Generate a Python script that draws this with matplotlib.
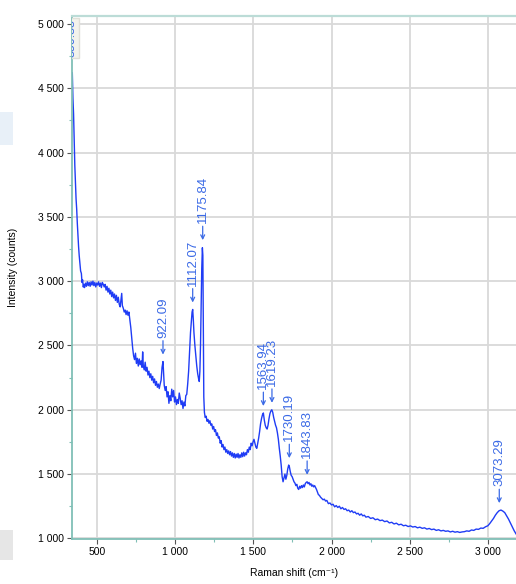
import matplotlib
matplotlib.use('Agg')
import matplotlib.pyplot as plt
import matplotlib.patches as mpatches
from matplotlib.ticker import MultipleLocator, FuncFormatter

plt.rcParams['font.family'] = ['Liberation Sans', 'DejaVu Sans']

shift = [342, 346, 350, 354, 358, 362, 366, 370, 374, 378, 382, 386, 390, 395, 400, 404, 408, 412, 416, 420,
         426, 432, 438, 444, 450, 456, 462, 468, 474, 480, 486, 492, 498, 504, 510, 516, 522, 528, 534, 540,
         546, 552, 558, 564, 570, 576, 582, 588, 594, 600, 606, 612, 618, 624, 630, 636, 642, 648, 654, 658,
         662, 668, 674, 680, 686, 692, 698, 704, 710, 716, 722, 728, 734, 740, 746, 752, 758, 764, 770, 776,
         782, 788, 792, 796, 802, 808, 814, 820, 826, 832, 838, 844, 850, 856, 862, 868, 874, 880, 886, 892,
         898, 904, 910, 916, 922, 926, 930, 936, 942, 948, 954, 960, 966, 972, 978, 984, 990, 996, 1002, 1008,
         1014, 1020, 1026, 1032, 1038, 1044, 1050, 1056, 1062, 1068, 1074, 1080, 1086, 1092, 1098, 1104, 1108,
         1112, 1116, 1120, 1126, 1132, 1138, 1144, 1150, 1154, 1158, 1162, 1166, 1170, 1174, 1177, 1180, 1183,
         1187, 1192, 1198, 1204, 1210, 1216, 1222, 1228, 1234, 1240, 1246, 1252, 1258, 1264, 1270, 1276, 1282,
         1288, 1294, 1300, 1306, 1312, 1318, 1324, 1330, 1336, 1342, 1348, 1354, 1360, 1366, 1372, 1378, 1384,
         1390, 1396, 1402, 1408, 1414, 1420, 1426, 1432, 1438, 1444, 1450, 1456, 1462, 1468, 1474, 1480, 1486,
         1492, 1498, 1504, 1510, 1516, 1522, 1528, 1534, 1540, 1546, 1552, 1558, 1564, 1570, 1576, 1582, 1588,
         1594, 1600, 1606, 1612, 1618, 1624, 1630, 1636, 1642, 1648, 1654, 1660, 1666, 1672, 1678, 1684, 1690,
         1696, 1702, 1708, 1714, 1720, 1726, 1730, 1736, 1742, 1748, 1754, 1760, 1766, 1772, 1778, 1784, 1790,
         1796, 1802, 1808, 1814, 1820, 1826, 1832, 1838, 1844, 1850, 1856, 1862, 1868, 1874, 1880, 1886, 1892,
         1898, 1904, 1910, 1916, 1922, 1930, 1938, 1946, 1954, 1962, 1970, 1980, 1990, 2000, 2010, 2020, 2030,
         2040, 2050, 2060, 2070, 2080, 2090, 2100, 2110, 2120, 2130, 2140, 2150, 2160, 2170, 2180, 2190, 2200,
         2210, 2220, 2235, 2250, 2265, 2280, 2295, 2310, 2325, 2340, 2355, 2370, 2385, 2400, 2415, 2430, 2445,
         2460, 2475, 2490, 2505, 2520, 2535, 2550, 2565, 2580, 2595, 2610, 2625, 2640, 2655, 2670, 2685, 2700,
         2715, 2730, 2745, 2760, 2775, 2790, 2805, 2820, 2835, 2850, 2865, 2880, 2895, 2910, 2925, 2940, 2955,
         2970, 2985, 3000, 3012, 3024, 3036, 3048, 3060, 3072, 3084, 3096, 3108, 3120, 3132, 3144, 3156, 3168,
         3180]

counts = [4620, 4420, 4300, 4100, 3900, 3760, 3640, 3560, 3450, 3360, 3270, 3200, 3150, 3080, 3060, 2990, 3010, 2955, 2975, 2950,
          2985, 2960, 2995, 2965, 2990, 2960, 2995, 2970, 3000, 2965, 2990, 2955, 2985, 2970, 2995, 2960, 2985, 2950, 2990, 2975,
          2955, 2975, 2930, 2960, 2915, 2945, 2900, 2930, 2880, 2915, 2870, 2900, 2850, 2890, 2835, 2875, 2820, 2800, 2860, 2905,
          2810, 2790, 2760, 2775, 2740, 2770, 2735, 2760, 2700, 2640, 2560, 2480, 2420, 2390, 2440, 2360, 2400, 2340, 2395, 2350,
          2380, 2330, 2450, 2340, 2310, 2370, 2300, 2330, 2270, 2300, 2250, 2280, 2230, 2260, 2210, 2240, 2190, 2220, 2175, 2200,
          2165, 2200, 2230, 2330, 2375, 2290, 2190, 2150, 2180, 2100, 2140, 2050, 2110, 2070, 2160, 2100, 2150, 2060, 2100, 2040,
          2080, 2050, 2130, 2090, 2040, 2070, 2010, 2060, 2030, 2110, 2120, 2200, 2300, 2450, 2600, 2700, 2760,
          2780, 2700, 2600, 2500, 2420, 2340, 2280, 2240, 2220, 2300, 2500, 2800, 3100, 3260, 3200, 2600, 2100,
          1980, 1940, 1950, 1910, 1925, 1895, 1915, 1880, 1890, 1850, 1870, 1830, 1845, 1800, 1820, 1780, 1790,
          1740, 1760, 1710, 1730, 1690, 1710, 1670, 1690, 1660, 1680, 1650, 1675, 1640, 1665, 1630, 1660, 1625,
          1655, 1630, 1660, 1625, 1650, 1630, 1665, 1635, 1670, 1640, 1665, 1650, 1690, 1670, 1710, 1690, 1740,
          1720, 1750, 1770, 1740, 1710, 1700, 1740, 1780, 1830, 1890, 1930, 1960, 1975, 1920, 1880, 1860, 1850,
          1880, 1930, 1970, 1990, 2000, 1980, 1940, 1910, 1880, 1860, 1820, 1770, 1700, 1640, 1570, 1480, 1440,
          1470, 1500, 1460, 1490, 1540, 1570, 1560, 1520, 1490, 1480, 1460, 1440, 1430, 1410, 1420, 1390, 1380,
          1405, 1390, 1410, 1395, 1415, 1400, 1425, 1435, 1440, 1425, 1435, 1415, 1425, 1405, 1415, 1400, 1410,
          1395, 1380, 1360, 1340, 1335, 1320, 1310, 1300, 1305, 1290, 1295, 1270, 1275, 1260, 1265, 1245, 1255,
          1240, 1250, 1230, 1240, 1225, 1230, 1215, 1220, 1205, 1215, 1200, 1205, 1190, 1195, 1180, 1190, 1175,
          1180, 1165, 1170, 1155, 1160, 1145, 1150, 1138, 1142, 1130, 1135, 1120, 1125, 1112, 1118, 1105, 1110,
          1098, 1102, 1092, 1097, 1088, 1092, 1082, 1087, 1078, 1082, 1072, 1077, 1068, 1072, 1062, 1067, 1058,
          1062, 1055, 1058, 1050, 1055, 1048, 1052, 1046, 1050, 1052, 1058, 1055, 1065, 1062, 1072, 1070, 1080,
          1078, 1090, 1098, 1115, 1135, 1155, 1180, 1200, 1215, 1220, 1212, 1200, 1175, 1150, 1120, 1090, 1060,
          1035]

peak_labels = ['922.09', '1112.07', '1175.84', '1563.94', '1619.23', '1730.19', '1843.83', '3073.29']
peak_x = [922, 1112, 1176, 1564, 1619, 1730, 1844, 3073]
peak_y = [2375, 2780, 3265, 1975, 2000, 1570, 1440, 1220]

line_color = '#1f3cf5'
label_color = '#3b6ae6'
spine_color = '#80bfb6'

fig = plt.figure(figsize=(5.16, 5.84), dpi=100)

# leftover bits of the screenshot background
fig.patches.append(mpatches.Rectangle((0, 1 - 145 / 584), 13 / 516, 33 / 584, transform=fig.transFigure,
                                      facecolor='#e8f0f8', edgecolor='none'))
fig.patches.append(mpatches.Rectangle((0, 1 - 560 / 584), 13 / 516, 30 / 584, transform=fig.transFigure,
                                      facecolor='#e6e6e6', edgecolor='none'))

ax = fig.add_axes([72 / 516, 1 - 539 / 584, 1 - 72 / 516, (539 - 16) / 584])
ax.plot(shift, counts, color=line_color, lw=1.0)

ax.set_xlim(340, 3180)
ax.set_ylim(995, 5062)

ax.xaxis.set_major_locator(MultipleLocator(500))
ax.xaxis.set_minor_locator(MultipleLocator(250))
ax.yaxis.set_major_locator(MultipleLocator(500))
ax.yaxis.set_minor_locator(MultipleLocator(250))
fmt = FuncFormatter(lambda v, p: f'{v:,.0f}'.replace(',', ' '))
ax.xaxis.set_major_formatter(fmt)
ax.yaxis.set_major_formatter(fmt)

ax.grid(True, which='major', color='#d9d9d9', lw=1.3)
ax.set_axisbelow(True)
ax.tick_params(which='major', length=3.5, width=0.8, color='#555555', labelsize=7.5, pad=2)
ax.tick_params(which='minor', length=2.5, width=0.8, color=spine_color)

for side in ['left', 'bottom']:
    ax.spines[side].set_color(spine_color)
    ax.spines[side].set_linewidth(1.3)
ax.spines['top'].set_color('#bcdcd7')
ax.spines['top'].set_linewidth(1.6)
ax.spines['right'].set_visible(False)

ax.set_xlabel('Raman shift (cm⁻¹)', fontsize=7.5, labelpad=8)
ax.set_ylabel('Intensity (counts)', fontsize=7.5)
ax.yaxis.set_label_coords(-0.122, 0.52)

for lab, px, py in zip(peak_labels, peak_x, peak_y):
    ax.annotate(lab, xy=(px, py), xytext=(0, 17), textcoords='offset points',
                rotation=90, ha='center', va='bottom', fontsize=9.5, color=label_color,
                arrowprops=dict(arrowstyle='->', color=label_color, lw=0.9,
                                shrinkA=0, shrinkB=5, mutation_scale=7))

# first peak label, cut off by the left edge
ax.text(340, 5040, '350.88', rotation=90, ha='center', va='top', fontsize=9, color=label_color,
        clip_on=True, bbox=dict(boxstyle='square,pad=0.1', facecolor='#f3f3ec', edgecolor='#e0e0d8'))

fig.savefig('out.png', dpi=100)
